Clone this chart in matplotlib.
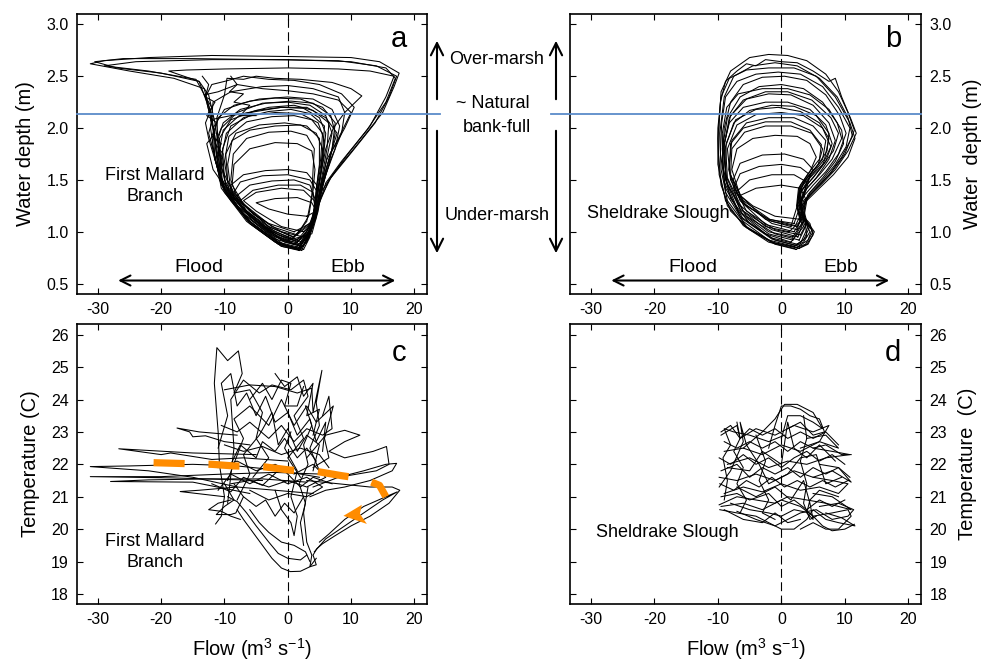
import matplotlib
matplotlib.use('Agg')
import matplotlib.pyplot as plt
from matplotlib.patches import FancyArrowPatch, Polygon
import numpy as np

plt.rcParams['font.family'] = ['Liberation Sans', 'DejaVu Sans']
plt.rcParams['mathtext.default'] = 'regular'
plt.rcParams['axes.unicode_minus'] = False

# ---- tidal cycles, flow (m3/s) vs water depth (m): First Mallard Branch
loops_a = [
    [(1.8,0.82),(-1,0.86),(-5,1.04),(-9,1.3),(-10.8,1.5),(-11.2,1.8),(-12,2.1),(-13.2,2.38),(-18,2.48),(-25,2.55),(-31.2,2.62),(-29,2.65),(-22,2.68),(-12,2.7),(0,2.69),(10,2.68),(14.5,2.64),(17.6,2.53),(16.8,2.4),(15,2.15),(11.5,1.88),(7.5,1.58),(5.2,1.38),(4,1.12),(3,0.92),(1.8,0.82)],
    [(1.5,0.84),(-1.5,0.9),(-6,1.1),(-9.8,1.38),(-11,1.62),(-11.6,1.95),(-12.8,2.25),(-14,2.45),(-20,2.53),(-27,2.58),(-30.5,2.64),(-26,2.67),(-15,2.67),(-3,2.66),(8,2.65),(14,2.6),(17.2,2.5),(16,2.3),(13.8,2.05),(10,1.76),(6.8,1.52),(5,1.3),(3.8,1.02),(2.5,0.86),(1.5,0.84)],
    [(2,0.86),(-2,0.93),(-7,1.17),(-10.2,1.42),(-10.8,1.75),(-11.5,2.05),(-12.5,2.32),(-14,2.45),(-18.8,2.55),(-16,2.56),(-10,2.57),(0,2.58),(8,2.57),(13,2.55),(16.8,2.5),(15.5,2.3),(13,2.02),(9.5,1.75),(6.5,1.5),(4.8,1.25),(3.6,1.0),(2,0.86)],
    [(1.2,0.88),(-2.5,0.97),(-7.5,1.2),(-10.5,1.45),(-11,1.8),(-11.2,2.1),(-10,2.32),(-9.6,2.48),(-7,2.47),(-5,2.5),(-2,2.48),(2,2.47),(7,2.44),(10,2.38),(11.7,2.31),(9,2.15),(7.2,2.0),(6,1.8),(5.2,1.55),(4.6,1.3),(3.6,1.05),(1.2,0.88)],
    [(0.5,0.9),(-3,1.0),(-8,1.25),(-10.8,1.55),(-12.5,1.9),(-13,2.05),(-12,2.2),(-13.2,2.32),(-11,2.35),(-8,2.42),(-4,2.38),(0,2.36),(4,2.33),(8,2.27),(10,2.15),(8,1.9),(6.2,1.7),(5.2,1.45),(4.5,1.2),(3.2,0.98),(0.5,0.9)],
    [(2.2,0.82),(-1,0.86),(-6,1.08),(-10,1.38),(-11.5,1.7),(-11.8,2.0),(-10,2.18),(-6,2.26),(-2,2.29),(2,2.28),(5.5,2.2),(7.5,2.05),(7,1.8),(5.8,1.55),(4.8,1.3),(3.8,1.05),(2.2,0.82)],
    [(1.8,0.85),(-1.5,0.9),(-6.5,1.12),(-10.3,1.45),(-11,1.72),(-10.2,1.98),(-7.5,2.13),(-3,2.2),(1,2.22),(4,2.17),(6.5,2.05),(6.2,1.8),(5.3,1.5),(4.6,1.25),(3.5,1.0),(1.8,0.85)],
    [(1,0.88),(-2,0.95),(-7,1.2),(-9.8,1.45),(-10.5,1.72),(-9.7,1.95),(-7,2.1),(-3,2.16),(0.5,2.18),(3.5,2.14),(5.8,2.02),(5.5,1.75),(4.8,1.48),(4.3,1.2),(3.2,0.98),(1,0.88)],
    [(2.5,0.83),(-0.5,0.87),(-5.5,1.1),(-9.3,1.4),(-10,1.68),(-9.3,1.92),(-6.5,2.06),(-2.5,2.11),(1,2.12),(3.8,2.08),(5.5,1.95),(5.2,1.7),(4.6,1.45),(4.2,1.18),(3.5,0.95),(2.5,0.83)],
    [(1.5,0.9),(-2.5,1.0),(-7.5,1.25),(-9.5,1.5),(-9.8,1.75),(-8.2,1.95),(-4.5,2.03),(-0.5,2.05),(3,2.02),(5,1.9),(5,1.65),(4.5,1.4),(4,1.15),(3,1.0),(1.5,0.9)],
    [(1,0.95),(-3,1.05),(-7.8,1.3),(-9,1.5),(-8.6,1.75),(-6.5,1.9),(-3,1.96),(0.5,1.97),(3,1.93),(4.2,1.8),(4,1.6),(3.8,1.35),(3,1.1),(1,0.95)],
    [(2,0.9),(-1.5,0.97),(-6,1.15),(-8.5,1.32),(-9,1.45),(-7,1.55),(-3.5,1.59),(0,1.6),(3,1.57),(4.6,1.45),(4.4,1.25),(3.8,1.05),(2,0.9)],
    [(1.5,0.92),(-2,1.0),(-6.5,1.2),(-8,1.35),(-6,1.45),(-2.5,1.49),(1,1.5),(3.5,1.45),(4.4,1.3),(4,1.1),(1.5,0.92)],
    [(2.5,1.0),(-1,1.05),(-5,1.2),(-7,1.3),(-5,1.38),(-1,1.42),(2.5,1.4),(4.2,1.3),(4.5,1.15),(3.5,1.05),(2.5,1.0)],
    [(3,1.15),(0,1.17),(-3,1.22),(-5,1.28),(-2,1.32),(1.5,1.33),(3.8,1.28),(4.5,1.2),(3,1.15)],
    [(0.2,0.92),(-4,1.05),(-9,1.35),(-11.8,1.6),(-12.8,1.85),(-11.5,1.95),(-12.2,2.08),(-9,2.12),(-5,2.16),(-1,2.2),(3,2.2),(6,2.1),(7.8,1.95),(6.5,1.7),(5.5,1.45),(4.8,1.2),(3.8,0.98),(0.2,0.92)],
    [(1.8,0.84),(-1,0.88),(-5.5,1.07),(-9.5,1.35),(-11,1.58),(-12,1.85),(-11,2.1),(-8.5,2.22),(-4.5,2.28),(0,2.3),(4,2.28),(7,2.18),(8.2,2.02),(7.5,1.8),(6,1.55),(5,1.3),(4,1.05),(1.8,0.84)],
    [(1.6,0.83),(-1,0.87),(-6,1.1),(-10,1.42),(-11.5,1.7),(-12.2,2.0),(-11.8,2.25),(-9,2.35),(-4,2.4),(0,2.41),(4,2.38),(8,2.3),(9,2.15),(8.5,1.95),(6.8,1.7),(5.5,1.45),(4.5,1.15),(3,0.9),(1.6,0.83)],
    [(0.8,0.95),(-3,1.05),(-8.5,1.35),(-10.5,1.62),(-10.8,1.9),(-9,2.08),(-5,2.17),(-1,2.2),(2.5,2.19),(5,2.1),(6,1.95),(5.6,1.7),(4.8,1.4),(3.8,1.1),(0.8,0.95)],
    [(2,0.88),(-1.5,0.95),(-6,1.15),(-9,1.4),(-9.5,1.65),(-8.8,1.88),(-6,1.98),(-2,2.02),(2,2.03),(4.5,1.95),(5.5,1.8),(5.2,1.55),(4.5,1.3),(3.5,1.0),(2,0.88)],
    [(1.2,0.84),(-2,0.9),(-6.5,1.1),(-10.5,1.42),(-11.2,1.65),(-12.5,1.95),(-11.8,2.1),(-13,2.3),(-12,2.42),(-10,2.45),(-7,2.5),(-3,2.47),(1,2.46),(5,2.42),(8.5,2.33),(10.5,2.2),(9,2.0),(7,1.78),(5.5,1.5),(4.6,1.25),(3.5,1.0),(1.2,0.84)],
    [(2.4,0.86),(-0.5,0.9),(-5,1.1),(-9,1.35),(-10.8,1.55),(-10.2,1.75),(-11.5,1.85),(-10.5,2.0),(-8,2.15),(-4,2.24),(0,2.25),(3.5,2.22),(6,2.12),(7,1.95),(6.2,1.72),(5.3,1.45),(4.5,1.15),(2.4,0.86)],
    [(0.6,0.93),(-3.5,1.05),(-8,1.28),(-10,1.5),(-10.3,1.8),(-9,2.02),(-6,2.12),(-2,2.15),(2,2.14),(4.8,2.05),(5.8,1.88),(5.3,1.6),(4.5,1.32),(3.7,1.08),(0.6,0.93)],
    [(2,0.87),(-1,0.92),(-5.5,1.13),(-9.5,1.4),(-10.5,1.62),(-11,1.9),(-10.2,2.05),(-7.5,2.18),(-3.5,2.24),(0.5,2.26),(4,2.24),(6.8,2.12),(7.5,1.95),(6.5,1.65),(5.2,1.38),(4.4,1.12),(2,0.87)],
    [(1.5,0.97),(-2.5,1.05),(-7,1.27),(-8.8,1.45),(-8.5,1.65),(-6,1.8),(-2,1.86),(1.5,1.85),(3.8,1.78),(4.3,1.6),(4,1.4),(3.3,1.15),(1.5,0.97)],
    [(2.5,0.95),(-1,1.0),(-5.5,1.17),(-8.5,1.38),(-7.5,1.48),(-4,1.54),(0,1.55),(3.5,1.5),(4.7,1.38),(4.3,1.15),(2.5,0.95)],
    [(1,1.0),(-3,1.08),(-6,1.2),(-7.5,1.3),(-5.5,1.4),(-1.5,1.45),(2,1.45),(4,1.38),(4.3,1.22),(3.5,1.08),(1,1.0)],
    [(2,0.83),(-1.5,0.88),(-6,1.08),(-10,1.4),(-11.2,1.7),(-11.8,2.0),(-13,2.3),(-14.5,2.47),(-22,2.55),(-29,2.6),(-24,2.64),(-12,2.66),(0,2.66),(10,2.64),(15.5,2.58),(17,2.48),(15.5,2.25),(12.5,1.98),(8.5,1.68),(6,1.47),(4.6,1.2),(3.4,0.95),(2,0.83)],
    [(-13.5,2.5),(-12.5,2.42),(-13,2.3),(-11.5,2.25),(-12.8,2.12),(-11.2,2.05),(-12,1.92),(-10.5,1.85),(-11.5,1.7),(-10.8,1.55)],
    [(-9,2.5),(-8,2.42),(-9.2,2.35),(-7,2.33),(-8.5,2.25),(-6,2.22),(-7.5,2.12),(-5,2.12)],
]

# ---- tidal cycles, flow vs water depth: Sheldrake Slough
loops_b = [
    [(2.3,0.83),(-1,0.88),(-5,1.02),(-8,1.2),(-9.5,1.45),(-9.9,1.75),(-9.8,2.05),(-9.5,2.35),(-8,2.55),(-5,2.68),(-2,2.71),(1,2.7),(4,2.65),(7,2.52),(9,2.35),(10.5,2.15),(11.5,1.98),(10,1.75),(8,1.58),(6,1.45),(3.5,1.3),(3,1.18),(4.5,1.08),(5,0.97),(4,0.88),(2.3,0.83)],
    [(2.5,0.85),(-1.5,0.9),(-5.5,1.05),(-8.5,1.3),(-9.5,1.6),(-9.7,1.95),(-9,2.3),(-7.5,2.5),(-4.5,2.6),(-1,2.63),(2.5,2.6),(6,2.48),(8.8,2.3),(10.5,2.1),(11.2,1.92),(9.5,1.72),(7.5,1.55),(5.5,1.42),(3.8,1.3),(3.5,1.15),(4.8,1.02),(4.2,0.92),(2.5,0.85)],
    [(2,0.86),(-2,0.92),(-6,1.1),(-8.8,1.38),(-9.3,1.7),(-9,2.0),(-8,2.25),(-6,2.42),(-3,2.49),(0.5,2.5),(4,2.46),(7,2.32),(9.2,2.12),(10.2,1.95),(9,1.75),(7,1.58),(5,1.45),(3.2,1.32),(3.3,1.15),(4.5,1.0),(3.5,0.9),(2,0.86)],
    [(2.5,0.88),(-1.5,0.94),(-6.5,1.15),(-9,1.48),(-9.3,1.8),(-8.5,2.1),(-6.5,2.3),(-3.5,2.4),(0,2.42),(3.5,2.38),(6.5,2.25),(8.8,2.05),(9.5,1.9),(8,1.7),(6,1.55),(4,1.42),(3,1.25),(3.8,1.08),(4,0.95),(2.5,0.88)],
    [(1.5,0.9),(-2.5,0.98),(-6.8,1.2),(-8.8,1.5),(-9,1.85),(-8,2.12),(-5.5,2.28),(-2,2.33),(1.5,2.32),(5,2.22),(7.5,2.05),(8.5,1.88),(7.5,1.7),(5.5,1.52),(3.5,1.38),(2.8,1.2),(3.5,1.05),(1.5,0.9)],
    [(2.8,0.92),(-1,0.98),(-5.5,1.15),(-8.5,1.45),(-9.2,1.8),(-8.2,2.05),(-6,2.2),(-2.5,2.25),(1,2.25),(4.5,2.18),(7,2.03),(8,1.85),(7,1.68),(5,1.52),(3.2,1.4),(2.6,1.22),(3.8,1.05),(2.8,0.92)],
    [(1.8,0.95),(-2,1.0),(-6.5,1.22),(-8.8,1.55),(-8.7,1.85),(-7.2,2.08),(-4,2.18),(-0.5,2.2),(3,2.16),(6,2.05),(7.5,1.9),(6.8,1.7),(4.8,1.55),(3,1.42),(2.5,1.25),(3.2,1.08),(1.8,0.95)],
    [(3,0.97),(-1,1.02),(-5.5,1.2),(-8,1.5),(-8.5,1.8),(-7,2.03),(-4,2.13),(0,2.15),(3.5,2.12),(6.5,2.0),(7.8,1.82),(6.5,1.65),(4.5,1.52),(3,1.38),(3.2,1.2),(4,1.08),(3,0.97)],
    [(2,1.0),(-2.5,1.07),(-6.5,1.3),(-8.3,1.6),(-7.8,1.88),(-5.5,2.05),(-2,2.1),(2,2.1),(5,2.02),(7,1.88),(6.5,1.7),(4.5,1.55),(2.8,1.42),(2.5,1.25),(3,1.1),(2,1.0)],
    [(2.5,1.02),(-1.5,1.08),(-6,1.28),(-8,1.55),(-7.8,1.8),(-5.8,1.96),(-2.5,2.02),(1.5,2.02),(4.8,1.95),(6.5,1.8),(5.8,1.65),(4,1.52),(2.8,1.38),(3.3,1.2),(2.5,1.02)],
    [(1.5,1.05),(-2.5,1.12),(-6.5,1.35),(-7.8,1.6),(-7,1.8),(-4.5,1.9),(-1,1.93),(2.5,1.92),(4.5,1.85),(5.5,1.72),(4.5,1.58),(3,1.45),(2.5,1.25),(1.5,1.05)],
    [(2.5,1.05),(-1.5,1.1),(-5.5,1.25),(-7.5,1.42),(-6.5,1.56),(-3.5,1.63),(0,1.65),(3,1.62),(4.5,1.55),(4,1.42),(3,1.3),(3.5,1.15),(2.5,1.05)],
    [(2,1.08),(-2,1.12),(-6,1.27),(-7.2,1.38),(-5,1.5),(-1.5,1.55),(2,1.55),(4,1.48),(3.5,1.35),(2.8,1.22),(2,1.08)],
    [(3,1.12),(-1,1.15),(-4.5,1.25),(-6.5,1.35),(-4,1.42),(0,1.45),(3,1.42),(3.8,1.32),(3,1.12)],
    [(2,0.84),(-2,0.9),(-6,1.06),(-8.8,1.3),(-10,1.65),(-10,2.0),(-9.5,2.3),(-8.2,2.48),(-5.5,2.56),(-2,2.58),(2,2.58),(5.5,2.5),(8.5,2.3),(10.8,2.05),(11.6,1.9),(10.5,1.72),(8.2,1.55),(6,1.42),(4,1.3),(3.5,1.12),(5,1.0),(3.8,0.88),(2,0.84)],
    [(2.8,0.86),(-1,0.92),(-5,1.08),(-8,1.32),(-9.2,1.62),(-9.3,1.95),(-8.6,2.2),(-6.8,2.33),(-3,2.38),(1,2.38),(4.5,2.32),(7.5,2.18),(9.5,1.98),(9.8,1.85),(8.5,1.68),(6.5,1.52),(4.5,1.38),(3.5,1.22),(4.2,1.05),(2.8,0.86)],
    [(2.2,0.87),(-1.5,0.93),(-6,1.12),(-8.8,1.42),(-9.6,1.75),(-9.4,2.05),(-8.8,2.3),(-7,2.45),(-4,2.52),(-0.5,2.54),(3,2.52),(6.5,2.4),(9,2.2),(10.8,2.0),(10.2,1.82),(8.5,1.65),(6.5,1.5),(4.2,1.36),(3.2,1.2),(4.4,1.04),(3.5,0.92),(2.2,0.87)],
    [(1.8,0.92),(-2,0.98),(-6.2,1.18),(-8.6,1.48),(-9.1,1.8),(-8.2,2.1),(-6,2.27),(-2.5,2.35),(1,2.35),(4.8,2.27),(7.8,2.1),(9,1.95),(8.2,1.78),(6,1.6),(4,1.45),(2.8,1.28),(3.5,1.1),(1.8,0.92)],
    [(2.6,0.95),(-1.5,1.02),(-6,1.2),(-8.5,1.52),(-8.8,1.82),(-7.5,2.05),(-5,2.17),(-1.5,2.22),(2,2.21),(5.5,2.12),(7.5,1.95),(7.2,1.78),(5.5,1.62),(3.5,1.48),(2.6,1.3),(3.6,1.12),(2.6,0.95)],
    [(1.2,1.0),(-2.5,1.05),(-6.8,1.27),(-8.2,1.58),(-8,1.85),(-6,2.0),(-2.5,2.06),(1.5,2.06),(4.5,1.98),(6.3,1.84),(6,1.7),(4.2,1.56),(2.7,1.42),(2.4,1.25),(3,1.1),(1.2,1.0)],
    [(2.2,1.06),(-1.8,1.12),(-6,1.3),(-7.6,1.5),(-6.5,1.66),(-3,1.74),(0.5,1.75),(3.5,1.7),(5,1.6),(4,1.47),(2.8,1.35),(3.2,1.18),(2.2,1.06)],
    [(2.8,0.84),(-1,0.89),(-5.5,1.04),(-8.5,1.25),(-9.8,1.55),(-10,1.9),(-9.6,2.25),(-8.8,2.45),(-7,2.55),(-5.5,2.62),(-4,2.6),(-2.5,2.66),(0,2.64),(2.5,2.63),(5,2.55),(7.5,2.45),(8.5,2.48),(9.5,2.3),(11,2.08),(11.8,1.95),(10.5,1.78),(8.5,1.6),(6.5,1.47),(4.5,1.35),(3.2,1.25),(3.8,1.12),(5.2,1.0),(4.2,0.88),(2.8,0.84)],
]

# ---- flow vs temperature (C): First Mallard Branch
traces_c = [
    [(-8,21.3),(-15,21.6),(-22,21.8),(-31.2,21.93),(-25,21.95),(-15,22.0),(-8,21.95),(-3,21.85),(2,21.7),(5,21.6)],
    [(-6,21.1),(-15,21.45),(-28,21.47),(-22,21.52),(-12,21.55),(-4,21.55),(3,21.45)],
    [(-4,21.5),(-18,21.58),(-31.2,21.62),(-20,21.62),(-10,21.7),(-2,21.75),(5,21.7)],
    [(-5,22.3),(-15,22.35),(-26.7,22.48),(-20,22.3),(-18.5,22.35),(-12,22.15),(-7,22.2),(0,22.1)],
    [(-8,22.9),(-14,23.0),(-17.5,23.12),(-15.5,23.0),(-15,22.85),(-13,22.88),(-10,22.7),(-6,22.6)],
    [(-10,21.0),(-17,21.16),(-14,21.2),(-8,21.3),(-2,21.2),(4,21.1)],
    [(-11.4,20.16),(-10.5,20.4),(-10,21),(-10.8,22),(-11,23),(-11.6,24.5),(-11.2,25.6),(-9.5,25.2),(-7.8,25.5),(-7.2,24.8),(-8.5,24.2),(-6,24.3),(-4,23.6),(-5,22.8),(-3,22.2),(-5.5,21.6)],
    [(-9.5,20.8),(-8.5,22.5),(-9,24.0),(-7,24.6),(-4.5,24.2),(-2.5,24.45),(0.5,24.3),(2.5,24.6),(3.2,24.1),(1,23.5),(2.5,22.8),(0,22.2),(2,21.6)],
    [(-10,24.3),(-6,24.45),(-2,24.4),(1.5,24.2),(3.8,24.35),(4,23.6),(5.4,24.9),(4.5,23.9),(5,23.2),(3.5,22.5),(5,21.8)],
    [(-9.5,21.5),(-7,22.8),(-8.5,23.4),(-6,23.8),(-3,23.2),(-1,24.0),(1,23.2),(3,23.8),(4.5,23.3),(7.2,23.8),(5.8,22.8),(6.5,22.2),(4,21.9)],
    [(-8,20.9),(-6,21.7),(-7,22.3),(-4.5,22.9),(-2.5,23.6),(-1.5,22.6),(0,23.1),(1.5,22.4),(3,22.9),(5,22.6),(4,21.8)],
    [(3,22.2),(6,22.9),(9,23.05),(11.4,22.9),(9,22.7),(6.5,22.4),(9,22.2),(13.5,22.4),(15.6,22.55),(16,22.0),(14,21.8),(11,21.7),(8,21.6)],
    [(4,21.3),(8,21.6),(12,21.8),(15.5,22.0),(17.2,22.03),(16.5,21.8),(13,21.5),(9,21.3),(6,21.2),(3.5,21.0)],
    [(3,21.5),(8,21.4),(13,21.3),(16.5,21.3),(17.7,21.2),(16,20.8),(13,20.4),(10,20.1),(7.5,19.8),(5.5,19.55),(4.6,19.4),(4,19.2),(4.5,18.9),(3.5,18.84),(3.8,19.2),(3,19.6),(2.5,20.5),(3.2,21.3)],
    [(4.2,19.3),(6,19.7),(9,20.1),(12,20.5),(15,20.9),(17.3,21.15),(15.5,21.0),(12,20.7),(9,20.3),(6.5,19.85),(5,19.6)],
    [(-8,20.6),(-7,20.3),(-5.5,19.9),(-4,19.5),(-2.5,19.1),(-1,18.8),(0.4,18.69),(2,18.7),(3.5,18.84),(4.5,19.1)],
    [(-9.5,21.0),(-8,20.85),(-6.5,20.5),(-5,20.1),(-3,19.6),(-1.5,19.25),(0,19.1),(2,19.05),(3,19.2)],
    [(-10,21.4),(-8.5,20.9),(-10,20.7),(-11.3,20.45),(-9,20.45),(-8.2,20.5),(-7,21.0),(-8.5,21.4)],
    [(2.5,19.5),(2,20.2),(2.8,20.8),(1.8,21.4),(3.2,22),(2.5,22.6),(3.8,23.2),(2.8,23.8)],
    [(-2,21.2),(-1,20.6),(0.5,20.2),(1,19.8),(1.5,20.4),(0.5,21.0),(1.5,21.8),(-0.5,22.5),(0.5,23.0)],
    [(-11,21.9),(-8,22.1),(-5,21.8),(-2,22.0),(1,21.7),(4,22.0),(6,21.6),(3,21.3),(0,21.5),(-3,21.3),(-6,21.5),(-9,21.4)],
    [(-10,22.6),(-7,22.4),(-4,22.55),(-1,22.3),(2,22.5),(5,22.3),(6.5,21.9)],
    [(-6,24.0),(-4,24.5),(-2.5,24.0),(-1,24.6),(0.5,24.5),(-0.5,23.8),(1.5,23.8),(2.5,24.4)],
    [(-7,21.0),(-5,20.7),(-3.5,20.9),(-2,20.4),(-0.5,20.8),(1,20.5),(2.5,21.0)],
    [(-9,20.9),(-11,20.8),(-12.5,20.6),(-10.5,20.55),(-9,20.4),(-7.5,20.3)],
    [(-11,22.5),(-9.5,23.5),(-10.5,24.5),(-9,24.8),(-8,23.8),(-6.5,24.2),(-5,23.5),(-3.5,24.1),(-2,23.3),(0,23.6),(1.5,22.9),(3.5,23.4),(4.5,22.7),(6,23.3),(5.5,22.4)],
    [(-10.5,23.2),(-8,23.0),(-6,23.3),(-3,22.8),(-1,23.2),(1,22.7),(3,23.1),(5.5,22.9),(7,23.1),(6.5,24.1),(5.5,23.5)],
    [(-11,21.2),(-9,21.7),(-6,21.4),(-3,21.7),(0,21.4),(3,21.6),(5.5,21.3),(3,21.0),(0,21.1),(-3,20.9),(-6,21.2)],
    [(-2,24.8),(-0.5,24.4),(1.5,24.7),(2.5,24.1),(4,24.5),(3,23.5),(5,23.7),(4,22.9)],
    [(-9,22.0),(-7.5,22.6),(-5,22.2),(-4,22.7),(-2,22.4),(-0.5,22.8),(1.5,22.2),(3,22.5),(4.5,22.1)],
    [(-6,20.6),(-4.5,20.2),(-3,19.9),(-1,19.6),(1,19.5),(2.8,19.3),(3.5,19.0)],
    [(-12,21.4),(-9,21.15),(-7,21.6),(-4,21.35),(-1,21.9),(2,21.3),(4,21.6),(7,21.4)],
]

# ---- flow vs temperature: Sheldrake Slough
traces_d = [
    [(-9.7,20.6),(-7,20.5),(-4,20.4),(-2,20.2),(0,20.0),(2,20.0),(4,20.3),(5,20.6),(7,20.3),(9,20.2),(11.6,20.1),(9.5,20.35),(7,20.5)],
    [(-9.5,20.7),(-6,20.8),(-3,20.6),(0,20.9),(3,20.7),(5,20.4),(8,20.5),(10.5,20.6),(11,20.4),(9,20.0),(7,20.0),(5,20.2),(3,20.0)],
    [(-9.8,20.75),(-7,21.0),(-4,20.9),(-1,20.8),(1,21.0),(4,20.9),(7,20.8),(11,20.6),(8,21.0),(5,21.1)],
    [(-9,21.1),(-6,21.3),(-3,21.15),(0,21.4),(3,21.2),(6,21.3),(9,21.1),(10.5,21.4),(8,21.5),(5,21.6)],
    [(-9.8,21.6),(-7,21.5),(-4,21.7),(-1,21.5),(2,21.8),(5,21.6),(8,21.8),(11,21.45),(9,21.9),(6,22.0)],
    [(-8.5,22.0),(-5,22.2),(-2,21.9),(1,22.1),(4,22.0),(7,22.2),(10.8,22.3),(8,22.4),(5,22.5)],
    [(-9,22.4),(-6,22.5),(-3,22.3),(0,22.6),(3,22.4),(6,22.7),(9,22.5),(7,22.9),(4,22.8)],
    [(-9.5,22.9),(-7,23.2),(-6.5,22.8),(-4,23.1),(-1,22.9),(2,23.2),(5,23.0),(7.5,23.2),(6,22.7),(3,22.5)],
    [(-6,22.5),(-3,23.0),(-1,23.4),(0.5,23.85),(2.5,23.85),(4,23.7),(5,23.6),(6.5,23.1),(5,23.3),(3,23.5),(1,23.5),(0,22.8)],
    [(-8.5,21.9),(-5,21.8),(-3,22.4),(0,22.0),(1,23.3),(2,22.5),(4,22.2),(6,22.6),(8.5,22.1)],
    [(-7,21.3),(-4,21.0),(-1,21.3),(1.5,20.9),(3.5,21.5),(4.5,20.8),(5,20.3),(4,20.5),(4.5,20.9),(6,21.2),(9,21.0)],
    [(-9.8,21.3),(-8,21.8),(-6,22.7),(-6.5,23.3),(-5.5,22.6),(-3.5,22.0),(-2,21.4),(1,21.7),(3,22.2),(5.5,22.3),(7,21.4),(9.5,21.6)],
    [(-9,20.9),(-8.5,21.5),(-9.2,22.2),(-8,22.6),(-9,23.1),(-7.5,23.0),(-5,22.9),(-2,22.7),(0.5,22.9)],
    [(-8,20.8),(-5,20.6),(-2,20.5),(0,20.4),(2,20.6),(4.5,20.5),(6.5,20.1),(8,19.95),(10,20.0),(11.5,20.15)],
    [(-9,20.6),(-6,20.3),(-3,20.2),(-1,20.5),(1,20.2),(3,20.3)],
    [(-9.5,23.0),(-8,23.2),(-6.5,22.8),(-5,23.1),(-3,22.9),(-1,23.1),(1,22.8),(3,23.0),(5,22.8),(7,23.0),(9,22.6)],
    [(-9,22.7),(-7,22.5),(-5,22.7),(-3,22.5),(-1,22.7),(1,22.4),(3,22.7),(5,22.5),(7,22.6),(9.5,22.3),(11,22.3)],
    [(-9.8,22.2),(-8,22.0),(-6,22.3),(-4,22.0),(-2,22.2),(0,21.9),(2,22.2),(4,22.4),(6,22.1),(8,22.3),(10,22.0)],
    [(-9.5,21.8),(-7,22.0),(-5,21.6),(-3,21.9),(-1,21.7),(1,21.9),(3,21.6),(5,21.9),(7,21.7),(9,21.9),(10.8,21.6)],
    [(-9.7,21.4),(-7.5,21.2),(-5.5,21.5),(-3.5,21.3),(-1.5,21.6),(0.5,21.3),(2.5,21.5),(4.5,21.3),(6.5,21.5),(8.5,21.3),(10.5,21.5)],
    [(-9.5,21.0),(-7,21.1),(-5,20.9),(-2,21.1),(0,20.7),(2,20.9),(4,20.6),(6,20.9),(8,20.7),(10,20.9)],
    [(-2,22.5),(-1,23.2),(0,23.8),(1.5,23.8),(3,23.7),(4.5,23.5),(6,23.4),(6.8,23.0),(5,22.9),(3,23.3),(1,23.1)],
    [(-7,23.3),(-6.5,22.8),(-7.5,22.4),(-6,21.9),(-7,21.4),(-5.5,20.9),(-6.5,20.5)],
    [(3.5,23.5),(4,22.8),(3,22.1),(4,21.4),(3.5,20.8),(4.5,20.3),(5.5,20.4)],
    [(-4,22.9),(-2.5,22.1),(-3.5,21.5),(-2,20.9),(-3,20.5),(-1,20.3)],
    [(-7,20.55),(-4,20.3),(-1,20.1),(1,20.3),(3,20.5),(5.5,20.6),(8,20.3),(10.5,20.4),(11.4,20.6),(9,20.8),(6,20.7)],
]

# orange guide through the temperature cycle (panel c) and its head
guide_c = [(-21.2,22.05),(-12,22.0),(-8.5,21.95),(-4,21.93),(0.5,21.82),(4,21.8),(8.5,21.65),(12,21.55),(14.5,21.35),(15.5,21.0)]
guide_head = [(8.8,20.41),(11.7,20.75),(11.4,20.47),(12.5,20.16)]

bankfull = 2.14
xticks = [-30, -20, -10, 0, 10, 20]
depth_ticks = [0.5, 1.0, 1.5, 2.0, 2.5, 3.0]
temp_ticks = [18, 19, 20, 21, 22, 23, 24, 25, 26]
xlim = (-33.3, 22)

W, H = 986, 661
fig = plt.figure(figsize=(9.86, 6.61), dpi=100)

def px_axes(x0, y0, x1, y1):
    return fig.add_axes([x0 / W, 1 - y1 / H, (x1 - x0) / W, (y1 - y0) / H])

ax_a = px_axes(77, 14, 427, 294)
ax_b = px_axes(570, 14, 921, 294)
ax_c = px_axes(77, 324, 427, 604)
ax_d = px_axes(570, 324, 921, 604)

def style(ax, right=False):
    ax.set_xlim(*xlim)
    ax.set_xticks(xticks)
    ax.tick_params(direction='in', length=4, width=0.8, top=True, right=True,
                   labelsize=11.5, pad=6)
    if right:
        ax.tick_params(labelleft=False, labelright=True)
        ax.yaxis.set_label_position('right')
    for s in ax.spines.values():
        s.set_linewidth(1.2)
    ax.axvline(0, color='black', lw=0.8, dashes=(8, 4), zorder=1)

for ax in (ax_a, ax_b):
    ax.set_ylim(0.40, 3.1)
    ax.set_yticks(depth_ticks)
    ax.set_yticklabels(['%.1f' % v for v in depth_ticks])
for ax in (ax_c, ax_d):
    ax.set_ylim(17.69, 26.33)
    ax.set_yticks(temp_ticks)

style(ax_a)
style(ax_b, right=True)
style(ax_c)
style(ax_d, right=True)

for ax, lines in ((ax_a, loops_a), (ax_b, loops_b), (ax_c, traces_c), (ax_d, traces_d)):
    for ln in lines:
        p = np.array(ln)
        ax.plot(p[:, 0], p[:, 1], color='black', lw=0.75, zorder=2)

# bank-full level runs out of both depth panels toward the middle labels
ax_a.axhline(bankfull, xmin=0, xmax=(440 - 77) / 350, color='#5b8bc9', lw=1.3,
             clip_on=False, zorder=3)
ax_b.axhline(bankfull, xmin=(551 - 570) / 351, xmax=1, color='#5b8bc9', lw=1.3,
             clip_on=False, zorder=3)

# flood / ebb direction arrows
for ax in (ax_a, ax_b):
    ax.annotate('', xy=(-26.8, 0.53), xytext=(17, 0.53),
                arrowprops=dict(arrowstyle='<->', lw=1.5, color='black',
                                mutation_scale=18, shrinkA=0, shrinkB=0))
    ax.text(-14, 0.655, 'Flood', fontsize=14, ha='center', va='center')
    ax.text(9.4, 0.655, 'Ebb', fontsize=14, ha='center', va='center')

ax_a.set_ylabel('Water depth (m)', fontsize=14.5, labelpad=8)
ax_b.set_ylabel('Water  depth (m)', fontsize=14.5, labelpad=8)
ax_c.set_ylabel('Temperature (C)', fontsize=14.5, labelpad=8)
ax_d.set_ylabel('Temperature  (C)', fontsize=14.5, labelpad=8)
ax_c.set_xlabel('Flow (m$^{3}$ s$^{-1}$)', fontsize=14.5, labelpad=6)
ax_d.set_xlabel('Flow (m$^{3}$ s$^{-1}$)', fontsize=14.5, labelpad=6)

for ax, letter in ((ax_a, 'a'), (ax_b, 'b')):
    ax.text(17.6, 2.86, letter, fontsize=21, ha='center', va='center')
for ax, letter in ((ax_c, 'c'), (ax_d, 'd')):
    ax.text(17.6, 25.45, letter, fontsize=21, ha='center', va='center')

ax_a.text(-21, 1.44, 'First Mallard\nBranch', fontsize=13, ha='center',
          va='center', linespacing=1.3)
ax_b.text(-19.4, 1.18, 'Sheldrake Slough', fontsize=13, ha='center', va='center')
ax_c.text(-21, 19.3, 'First Mallard\nBranch', fontsize=13, ha='center',
          va='center', linespacing=1.3)
ax_d.text(-18, 19.9, 'Sheldrake Slough', fontsize=13, ha='center', va='center')

# orange dashed guide and its arrowhead
g = np.array(guide_c)
ax_c.plot(g[:, 0], g[:, 1], color='#ff8c00', lw=5.2, dashes=(4.3, 3.3),
          solid_capstyle='butt', dash_capstyle='butt', zorder=4)
ax_c.add_patch(Polygon(guide_head, closed=True, facecolor='#ff8c00',
                       edgecolor='none', zorder=4))

# marsh level labels between the depth panels
def vert_arrow(x, y_tail, y_tip):
    fig.add_artist(FancyArrowPatch((x / W, 1 - y_tail / H), (x / W, 1 - y_tip / H),
                                   transform=fig.transFigure, arrowstyle='->',
                                   mutation_scale=22, lw=1.5, color='black'))

for x in (437, 556):
    vert_arrow(x, 102, 38)
    vert_arrow(x, 128, 256)

fig.text(497 / W, 1 - 59 / H, 'Over-marsh', fontsize=13, ha='center', va='center')
fig.text(493 / W, 1 - 103 / H, '~ Natural', fontsize=13, ha='center', va='center')
fig.text(497 / W, 1 - 127 / H, 'bank-full', fontsize=13, ha='center', va='center')
fig.text(497 / W, 1 - 215 / H, 'Under-marsh', fontsize=13, ha='center', va='center')

fig.savefig('out.png', dpi=100)
